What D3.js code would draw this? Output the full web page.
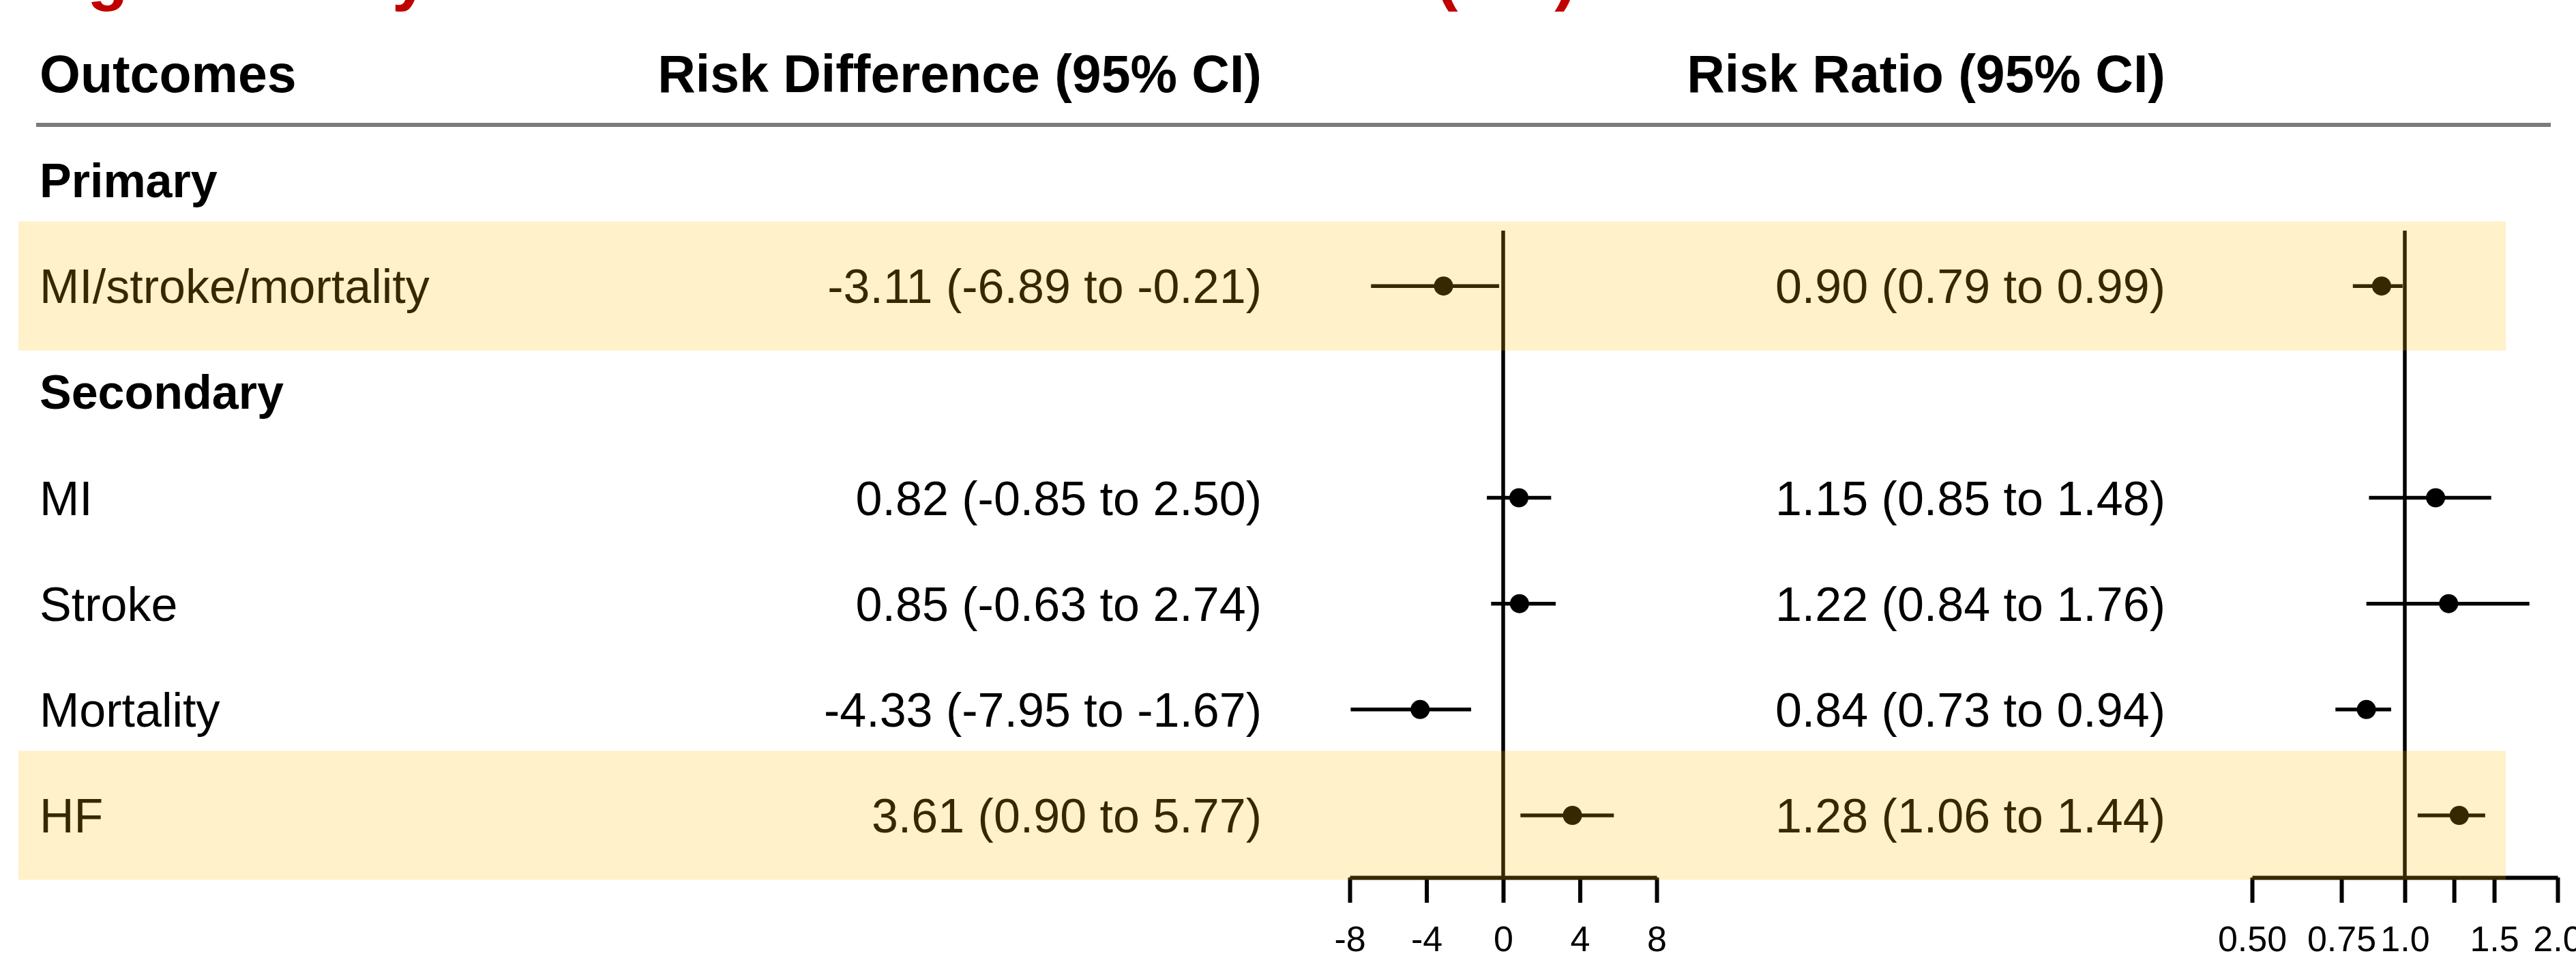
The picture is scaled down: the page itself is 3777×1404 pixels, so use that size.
<!DOCTYPE html>
<html><head><meta charset="utf-8">
<script src="https://cdn.jsdelivr.net/npm/d3@7"></script>
<style>
body{margin:0;background:#fff;}
svg{display:block;}
text{font-family:"Liberation Sans",Arial,Helvetica,sans-serif;}
</style>
</head><body>
<svg id="chart" width="3777" height="1404"></svg>
<script>
// ---- data ----
const titleText = "Figure 3 Key Outcomes and Risk Difference (RD)";
const headers = ["Outcomes", "Risk Difference (95% CI)", "Risk Ratio (95% CI)"];
const rowLabels = ["Primary", "MI/stroke/mortality", "Secondary", "MI", "Stroke", "Mortality", "HF"];
const groupRows = ["Primary", "Secondary"];
const highlightRows = ["MI/stroke/mortality", "HF"];
const outcomes = ["MI/stroke/mortality", "MI", "Stroke", "Mortality", "HF"];
const rdEst  = [-3.11, 0.82, 0.85, -4.33, 3.61];
const rdLow  = [-6.89, -0.85, -0.63, -7.95, 0.90];
const rdHigh = [-0.21, 2.50, 2.74, -1.67, 5.77];
const rrEst  = [0.90, 1.15, 1.22, 0.84, 1.28];
const rrLow  = [0.79, 0.85, 0.84, 0.73, 1.06];
const rrHigh = [0.99, 1.48, 1.76, 0.94, 1.44];
const rdTicks = [-8, -4, 0, 4, 8];
const rdTickLabels = ["-8", "-4", "0", "4", "8"];
const rrTicks = [0.5, 0.75, 1, 1.25, 1.5, 2];
const rrTickLabels = ["0.50", "0.75", "1.0", "", "1.5", "2.0"];

// ---- layout ----
const svg = d3.select("#chart");
const y = d3.scalePoint().domain(rowLabels).range([264, 1195]);
const xRD = d3.scaleLinear().domain([-8, 8]).range([1979, 2429]);
const xRR = d3.scaleLog().domain([0.5, 2]).range([3302, 3750]);
const axisY = 1286, refTop = 338;
const labelX = 58, rdTextX = 1850, rrTextX = 3175;
const fmt = v => v.toFixed(2);
const data = outcomes.map((o, i) => ({o, rdE: rdEst[i], rdL: rdLow[i], rdH: rdHigh[i], rrE: rrEst[i], rrL: rrLow[i], rrH: rrHigh[i]}));

// title (cut off at the top edge, only descenders visible)
svg.append("text").attr("x", 41).attr("y", -3).attr("font-size", 98).attr("font-weight", "bold")
  .attr("fill", "#c00000").text(titleText);

// headers
const hx = [labelX, rdTextX, rrTextX], ha = ["start", "end", "end"];
svg.selectAll("text.hdr").data(headers).join("text").attr("class", "hdr")
  .attr("x", (d, i) => hx[i]).attr("y", 135).attr("text-anchor", (d, i) => ha[i])
  .attr("font-size", 77).attr("font-weight", "bold").attr("fill", "#000").text(d => d);

svg.append("line").attr("x1", 53).attr("x2", 3740).attr("y1", 183).attr("y2", 183)
  .attr("stroke", "#7a7a7a").attr("stroke-width", 6);

// row labels
svg.selectAll("text.row").data(rowLabels).join("text").attr("class", "row")
  .attr("x", labelX).attr("y", d => y(d) + 25)
  .attr("font-size", 70).attr("font-weight", d => groupRows.includes(d) ? "bold" : "normal")
  .attr("fill", "#000").text(d => d);

// value texts
svg.selectAll("text.rd").data(data).join("text").attr("class", "rd")
  .attr("x", rdTextX).attr("y", d => y(d.o) + 25).attr("text-anchor", "end")
  .attr("font-size", 70).attr("fill", "#000")
  .text(d => `${fmt(d.rdE)} (${fmt(d.rdL)} to ${fmt(d.rdH)})`);
svg.selectAll("text.rr").data(data).join("text").attr("class", "rr")
  .attr("x", rrTextX).attr("y", d => y(d.o) + 25).attr("text-anchor", "end")
  .attr("font-size", 70).attr("fill", "#000")
  .text(d => `${fmt(d.rrE)} (${fmt(d.rrL)} to ${fmt(d.rrH)})`);

// reference lines
svg.append("line").attr("x1", xRD(0)).attr("x2", xRD(0)).attr("y1", refTop).attr("y2", axisY)
  .attr("stroke", "#000").attr("stroke-width", 5.5);
svg.append("line").attr("x1", xRR(1)).attr("x2", xRR(1)).attr("y1", refTop).attr("y2", axisY)
  .attr("stroke", "#000").attr("stroke-width", 5.5);

// CIs and points
function drawPanel(x, lo, hi, est, cls) {
  svg.selectAll("line." + cls).data(data).join("line").attr("class", cls)
    .attr("x1", d => x(d[lo])).attr("x2", d => x(d[hi]))
    .attr("y1", d => y(d.o)).attr("y2", d => y(d.o))
    .attr("stroke", "#000").attr("stroke-width", 5.5);
  svg.selectAll("circle." + cls).data(data).join("circle").attr("class", cls)
    .attr("cx", d => x(d[est])).attr("cy", d => y(d.o)).attr("r", 14).attr("fill", "#000");
}
drawPanel(xRD, "rdL", "rdH", "rdE", "rdp");
drawPanel(xRR, "rrL", "rrH", "rrE", "rrp");

// axes
function styleAxis(g) {
  g.select(".domain").attr("stroke", "#000").attr("stroke-width", 6);
  g.selectAll(".tick line").attr("stroke", "#000").attr("stroke-width", 6);
  g.selectAll(".tick text").attr("font-size", 52).attr("fill", "#000")
    .attr("font-family", "'Liberation Sans',Arial,Helvetica,sans-serif");
}
svg.append("g").attr("transform", `translate(0,${axisY})`)
  .call(d3.axisBottom(xRD).tickValues(rdTicks).tickFormat((d, i) => rdTickLabels[i])
    .tickSize(37).tickSizeOuter(0).tickPadding(34))
  .call(styleAxis);
svg.append("g").attr("transform", `translate(0,${axisY})`)
  .call(d3.axisBottom(xRR).tickValues(rrTicks).tickFormat((d, i) => rrTickLabels[i])
    .tickSize(37).tickSizeOuter(0).tickPadding(34))
  .call(styleAxis);

// highlight overlays (drawn on top, semi-transparent)
svg.selectAll("rect.hl").data(highlightRows).join("rect").attr("class", "hl")
  .attr("x", 27).attr("width", 3647).attr("y", d => y(d) - 94.5).attr("height", 189)
  .attr("fill", "rgb(255,190,0)").attr("opacity", 0.21);
</script>
</body></html>
